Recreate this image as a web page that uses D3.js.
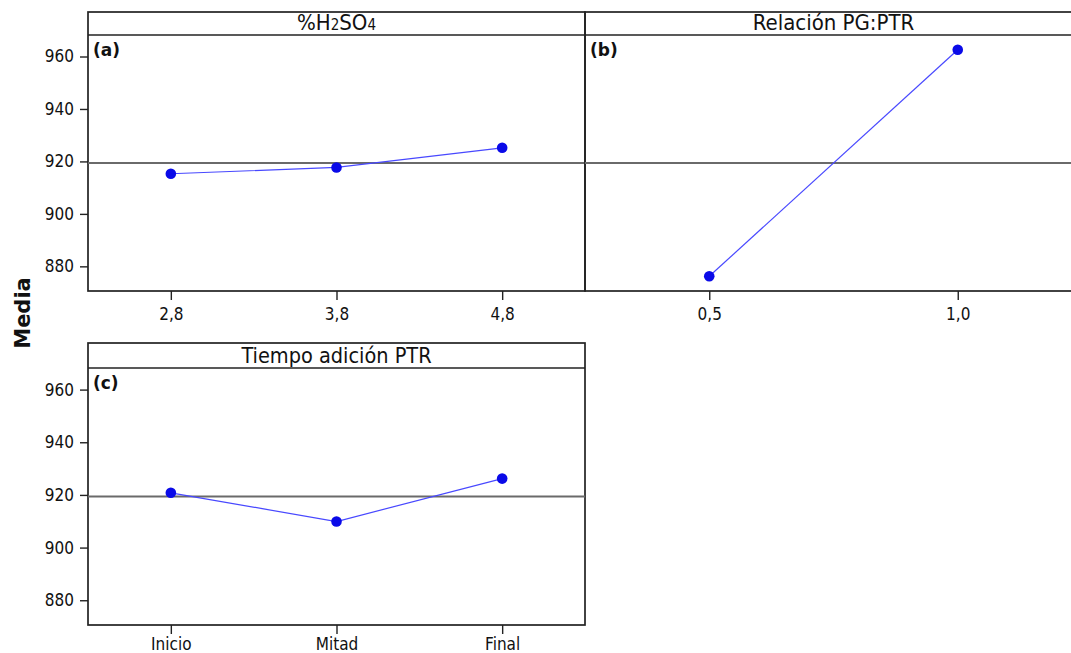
<!DOCTYPE html>
<html>
<head>
<meta charset="utf-8">
<script src="https://cdn.jsdelivr.net/npm/d3@7"></script>
<style>
  html, body { margin: 0; padding: 0; background: #fff; }
  svg { display: block; }
</style>
</head>
<body>
<svg id="chart" width="1071" height="653"></svg>
<script>
// Main effects plot for the mean response
const acidLevels   = ["2,8", "3,8", "4,8"];
const acidMeans    = [915.3, 917.7, 925.2];

const ratioLevels  = ["0,5", "1,0"];
const ratioMeans   = [876.2, 962.6];

const timeLevels   = ["Inicio", "Mitad", "Final"];
const timeMeans    = [920.8, 909.9, 926.2];

const grandMean    = [919.4];
const yTicks       = [880, 900, 920, 940, 960];
const panelLetters = ["(a)", "(b)", "(c)"];

const svg = d3.select("#chart");
const yDomain = [870.6, 968.2];

const tickFont = "'DejaVu Sans Condensed', 'DejaVu Sans', sans-serif";
const lineBlue = "#4848ff";
const dotBlue = "#0a0ae8";
const frameColor = "#222";

function panel(opts) {
  const { x0, x1, top, headerBottom, bottom, levels, means, letter, title, titleSize, showY, xPad } = opts;
  const g = svg.append("g");

  const x = d3.scalePoint().domain(levels).range([x0, x1]).padding(0.5);
  const y = d3.scaleLinear().domain(yDomain).range([bottom, headerBottom]);

  // header strip and plot frame
  g.append("rect")
    .attr("x", x0).attr("y", top)
    .attr("width", x1 - x0).attr("height", bottom - top)
    .attr("fill", "none").attr("stroke", frameColor).attr("stroke-width", 1.7);
  g.append("line")
    .attr("x1", x0).attr("x2", x1)
    .attr("y1", headerBottom).attr("y2", headerBottom)
    .attr("stroke", frameColor).attr("stroke-width", 1.7);

  // title in the header
  const t = g.append("text")
    .attr("x", (x0 + Math.min(x1, 1082)) / 2)
    .attr("y", headerBottom - 5)
    .attr("text-anchor", "middle")
    .attr("font-family", tickFont)
    .attr("font-size", titleSize)
    .attr("fill", "#111");
  title(t);

  // grand mean reference line
  g.append("line")
    .attr("x1", x0).attr("x2", x1)
    .attr("y1", y(grandMean[0])).attr("y2", y(grandMean[0]))
    .attr("stroke", "#6a6a6a").attr("stroke-width", 2);

  // x axis
  const xa = g.append("g")
    .attr("transform", `translate(0,${bottom})`)
    .call(d3.axisBottom(x).tickSize(9).tickPadding(xPad));
  xa.select(".domain").remove();
  xa.selectAll("line").attr("stroke", frameColor).attr("stroke-width", 1.4);
  xa.selectAll("text")
    .attr("font-family", tickFont).attr("font-size", 17).attr("fill", "#111");

  // y axis
  if (showY) {
    const ya = g.append("g")
      .attr("transform", `translate(${x0},0)`)
      .call(d3.axisLeft(y).tickValues(yTicks).tickSize(8).tickPadding(6));
    ya.select(".domain").remove();
    ya.selectAll("line").attr("stroke", frameColor).attr("stroke-width", 1.4);
    ya.selectAll("text")
      .attr("font-family", tickFont).attr("font-size", 17).attr("fill", "#111");
  }

  // panel letter
  g.append("text")
    .attr("x", x0 + 5).attr("y", headerBottom + 21)
    .attr("font-family", "'DejaVu Sans', sans-serif")
    .attr("font-weight", "bold").attr("font-size", 17)
    .attr("fill", "#111")
    .text(letter);

  // means line and points
  const pts = levels.map((l, i) => ({ l, v: means[i] }));
  g.append("path")
    .datum(pts)
    .attr("fill", "none")
    .attr("stroke", lineBlue).attr("stroke-width", 1.2)
    .attr("d", d3.line().x(d => x(d.l)).y(d => y(d.v)));
  g.selectAll("circle.pt").data(pts).enter().append("circle")
    .attr("class", "pt")
    .attr("cx", d => x(d.l)).attr("cy", d => y(d.v))
    .attr("r", 5.3).attr("fill", dotBlue);
}

panel({
  x0: 88, x1: 585, top: 12, headerBottom: 35, bottom: 291, xPad: 8,
  levels: acidLevels, means: acidMeans, letter: panelLetters[0], showY: true,
  titleSize: 22,
  title: t => {
    t.append("tspan").text("%H");
    t.append("tspan").attr("font-size", 15).text("2");
    t.append("tspan").text("SO");
    t.append("tspan").attr("font-size", 15).text("4");
  }
});

panel({
  x0: 585, x1: 1082, top: 12, headerBottom: 35, bottom: 291, xPad: 8,
  levels: ratioLevels, means: ratioMeans, letter: panelLetters[1], showY: false,
  titleSize: 22,
  title: t => t.text("Relación PG:PTR")
});

panel({
  x0: 88, x1: 585, top: 343, headerBottom: 368, bottom: 625, xPad: 4,
  levels: timeLevels, means: timeMeans, letter: panelLetters[2], showY: true,
  titleSize: 21.5,
  title: t => t.text("Tiempo adición PTR")
});

// shared y axis title
svg.append("text")
  .attr("transform", "translate(30,313) rotate(-90)")
  .attr("text-anchor", "middle")
  .attr("font-family", "'DejaVu Sans', sans-serif")
  .attr("font-weight", "bold").attr("font-size", 21)
  .attr("fill", "#111")
  .text("Media");
</script>
</body>
</html>
